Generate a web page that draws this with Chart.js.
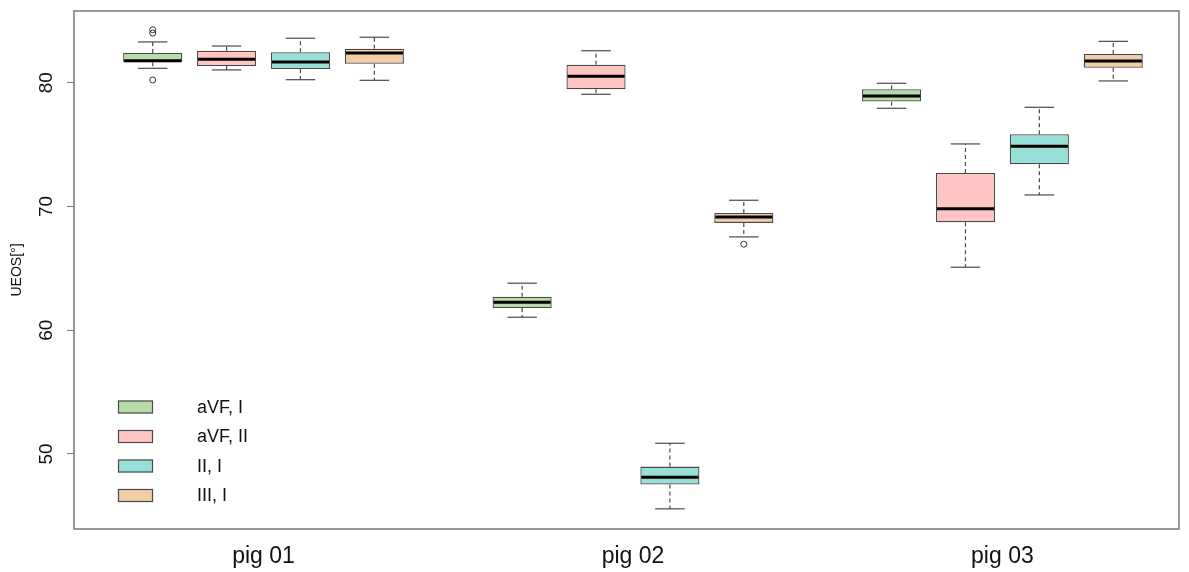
<!DOCTYPE html>
<html>
<head>
<meta charset="utf-8">
<script src="https://cdn.jsdelivr.net/npm/chart.js@4.4.1/dist/chart.umd.min.js"></script>
<style>
  html, body { margin: 0; padding: 0; background: #fff; }
  #wrap { width: 1189px; height: 572px; }
</style>
</head>
<body>
<div id="wrap"><canvas id="boxChart"></canvas></div>
<script>
const groups = ['pig 01', 'pig 02', 'pig 03'];
const seriesNames = ['aVF, I', 'aVF, II', 'II, I', 'III, I'];
const yTicks = [50, 60, 70, 80];

// [lower whisker, Q1, median, Q3, upper whisker], one row per pig
const aVF_I  = [[81.16, 81.65, 81.78, 82.40, 83.29], [61.05, 61.80, 62.26, 62.71, 63.80], [77.93, 78.47, 78.93, 79.47, 79.95]];
const aVF_II = [[81.03, 81.35, 81.89, 82.58, 82.96], [79.06, 79.47, 80.52, 81.45, 82.58], [65.09, 68.72, 69.82, 72.71, 75.05]];
const II_I   = [[80.24, 81.11, 81.67, 82.46, 83.59], [45.57, 47.53, 48.13, 48.98, 50.87], [70.93, 73.41, 74.86, 75.83, 78.01]];
const III_I  = [[80.19, 81.53, 82.40, 82.75, 83.67], [67.54, 68.67, 69.15, 69.47, 70.50], [80.14, 81.21, 81.75, 82.32, 83.34]];

// outliers as [pig index, value]
const aVF_I_out  = [[0, 84.28], [0, 84.01], [0, 80.22]];
const aVF_II_out = [];
const II_I_out   = [];
const III_I_out  = [[1, 66.95]];

const stats = [aVF_I, aVF_II, II_I, III_I];
const outliers = [aVF_I_out, aVF_II_out, II_I_out, III_I_out];
const fills = ['#b7dca9', '#ffc5c2', '#98e0d7', '#f1cea7'];

// boxes sit at 1..4, 6..9, 11..14 like R's boxplot(at=...)
function boxX(g, s) { return g * 5 + s + 1; }

const datasets = stats.map((st, s) => ({
    type: 'bar',
    label: seriesNames[s],
    data: st.map((b, g) => ({ x: boxX(g, s), y: [b[1], b[3]] })),
    backgroundColor: fills[s],
    borderColor: '#4a4a4a',
    borderWidth: 1.3,
    borderSkipped: false,
    grouped: false,
    categoryPercentage: 1,
    barPercentage: 0.8
}));
datasets.push({
    type: 'scatter',
    label: 'outliers',
    data: outliers.flatMap((o, s) => o.map(([g, v]) => ({ x: boxX(g, s), y: v }))),
    pointRadius: 3,
    pointBorderWidth: 1,
    pointBorderColor: '#333',
    pointBackgroundColor: 'rgba(0,0,0,0)'
});

function line(ctx, x1, y1, x2, y2) {
    ctx.beginPath();
    ctx.moveTo(x1, y1);
    ctx.lineTo(x2, y2);
    ctx.stroke();
}

// whiskers, caps and medians
const boxParts = {
    id: 'boxParts',
    afterDatasetsDraw(chart) {
        const ctx = chart.ctx;
        const y = chart.scales.y;
        stats.forEach((st, s) => {
            const meta = chart.getDatasetMeta(s);
            st.forEach((b, g) => {
                const { x, width } = meta.data[g].getProps(['x', 'width'], true);
                const [lo, q1, med, q3, hi] = b.map(v => y.getPixelForValue(v));
                const half = width / 2, cap = width / 4;
                ctx.save();
                ctx.strokeStyle = '#4a4a4a';
                ctx.lineWidth = 1.2;
                ctx.setLineDash([4, 3]);
                line(ctx, x, q3, x, hi);
                line(ctx, x, q1, x, lo);
                ctx.setLineDash([]);
                line(ctx, x - cap, hi, x + cap, hi);
                line(ctx, x - cap, lo, x + cap, lo);
                ctx.strokeStyle = '#000';
                ctx.lineWidth = 3;
                line(ctx, x - half + 1, med, x + half - 1, med);
                ctx.restore();
            });
        });
    }
};

// plot frame + legend inside the plot, bottom left
const frameAndLegend = {
    id: 'frameAndLegend',
    afterDraw(chart) {
        const ctx = chart.ctx;
        const a = chart.chartArea;
        ctx.save();
        ctx.strokeStyle = '#777';
        ctx.lineWidth = 1.5;
        ctx.strokeRect(a.left, a.top, a.right - a.left, a.bottom - a.top);

        ctx.font = '18px "Liberation Sans", Arial, sans-serif';
        ctx.textBaseline = 'middle';
        ctx.textAlign = 'left';
        seriesNames.forEach((name, i) => {
            const cy = a.bottom - 122 + i * 29.5;
            ctx.fillStyle = fills[i];
            ctx.fillRect(a.left + 44, cy - 6.5, 35, 13);
            ctx.strokeStyle = '#4a4a4a';
            ctx.lineWidth = 1.2;
            ctx.strokeRect(a.left + 44.5, cy - 6, 34, 12);
            ctx.fillStyle = '#111';
            ctx.fillText(name, a.left + 123, cy + 1);
        });
        ctx.restore();
    }
};

new Chart(document.getElementById('boxChart'), {
    type: 'bar',
    data: { datasets: datasets },
    options: {
        responsive: true,
        maintainAspectRatio: false,
        animation: false,
        layout: { padding: { top: 11, right: 10, left: 0, bottom: 0 } },
        plugins: { legend: { display: false }, tooltip: { enabled: false } },
        scales: {
            x: {
                type: 'linear',
                offset: false,
                min: -0.065,
                max: 14.89,
                grid: { display: false, drawTicks: false },
                border: { display: false },
                afterBuildTicks: scale => { scale.ticks = groups.map((_, g) => ({ value: g * 5 + 2.5 })); },
                afterFit: scale => { scale.height = 43; },
                ticks: {
                    autoSkip: false,
                    maxRotation: 0,
                    padding: 14,
                    color: '#111',
                    font: { family: '"Liberation Sans", Arial, sans-serif', size: 23 },
                    callback: (value, index) => groups[index]
                }
            },
            y: {
                min: 43.94,
                max: 85.79,
                grid: { display: true, drawOnChartArea: false, drawTicks: true, tickLength: 7, color: '#777' },
                border: { display: false },
                afterBuildTicks: scale => { scale.ticks = yTicks.map(v => ({ value: v })); },
                afterFit: scale => {
                    scale.width = 74;
                    scale.paddingTop = 0;
                    scale.paddingBottom = 0;
                },
                ticks: {
                    minRotation: 90,
                    maxRotation: 90,
                    crossAlign: 'center',
                    padding: 10,
                    color: '#111',
                    font: { family: '"Liberation Sans", Arial, sans-serif', size: 19 }
                },
                title: {
                    display: true,
                    text: 'UEOS[°]',
                    color: '#111',
                    padding: { top: 9, bottom: 0 },
                    font: { family: '"Liberation Sans", Arial, sans-serif', size: 14 }
                }
            }
        }
    },
    plugins: [boxParts, frameAndLegend]
});
</script>
</body>
</html>
